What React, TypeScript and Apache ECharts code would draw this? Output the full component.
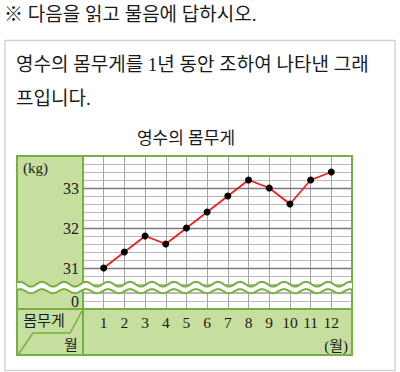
import React, { useEffect, useRef } from "react";
import * as echarts from "echarts";

// ---- data ----
const months = [1, 2, 3, 4, 5, 6, 7, 8, 9, 10, 11, 12];
const monthLabels = ["1", "2", "3", "4", "5", "6", "7", "8", "9", "10", "11", "12"];
const weights = [31, 31.4, 31.8, 31.6, 32.0, 32.4, 32.8, 33.2, 33.0, 32.6, 33.2, 33.4];
const upperTicks = [31, 32, 33];
const lowerTicks = [0];
const headerText = "※ 다음을 읽고 물음에 답하시오.";
const bodyLines = ["영수의 몸무게를 1년 동안 조하여 나타낸 그래", "프입니다."];
const chartTitle = "영수의 몸무게";
const unitY = "(kg)";
const unitX = "(월)";
const cornerTop = "몸무게";
const cornerBottom = "월";

const KFONT = "'Liberation Serif', 'Noto Sans CJK KR', serif";
const NFONT = "'Liberation Serif', 'Times New Roman', serif";
const GREEN = "#76b043";
const FILL = "#c6df9f";

function wave(cy: number, amp: number, x0: number, x1: number, period: number, ref: number) {
  const pts: number[][] = [];
  for (let x = x0; x <= x1; x += 1) {
    pts.push([x, cy - amp * Math.cos((2 * Math.PI * (x - ref)) / period)]);
  }
  return pts;
}

function isTick(v: number, list: number[]) {
  const r = Math.round(v);
  return Math.abs(v - r) < 1e-6 && list.indexOf(r) >= 0 ? String(r) : "";
}

export default function App() {
  const ref = useRef<HTMLDivElement>(null);
  useEffect(() => {
    if (!ref.current) return;
    const chart = echarts.init(ref.current, null, { renderer: "svg" });
    const L = 17, R = 352, T = 156, B = 355, C = 83, MR = 309;
    const up = wave(284.2, 2.4, L, R, 22, 350);
    const lo = wave(291.2, 2.0, L, R, 22, 350);
    const band = up.concat(lo.slice().reverse());

    const txt = (text: string, x: number, y: number, size: number, align: string, font = KFONT) => ({
      type: "text",
      x,
      y,
      z: 30,
      style: { text, fontSize: size, fontFamily: font, fill: "#1a1a1a", align, verticalAlign: "middle" },
    });

    const labelStyle = { fontFamily: NFONT, color: "#1a1a1a" };
    const hLine = { color: "#b8b8b8", width: 1 };
    const vLine = { color: "#a4a4a4", width: 1 };

    const option: any = {
      animation: false,
      grid: [
        { left: C, right: 400 - R, top: T, height: 136 },
        { left: C, right: 400 - R, top: 285, height: 24 },
      ],
      xAxis: [
        {
          type: "value", gridIndex: 0, min: 0, max: 13, interval: 1,
          axisLine: { show: false }, axisTick: { show: false }, axisLabel: { show: false },
          splitLine: { show: true, lineStyle: vLine },
        },
        {
          type: "value", gridIndex: 1, min: 0, max: 13, interval: 1,
          axisLine: { show: false }, axisTick: { show: false },
          axisLabel: {
            show: true, margin: 5, fontSize: 15.5, ...labelStyle,
            formatter: (v: number) => (v >= 1 && v <= 12 ? monthLabels[months.indexOf(v)] : ""),
          },
          splitLine: { show: true, lineStyle: vLine },
        },
      ],
      yAxis: [
        {
          type: "value", gridIndex: 0, min: 30.4, max: 33.8, interval: 0.2,
          axisLine: { show: false }, axisTick: { show: false },
          axisLabel: {
            show: true, margin: 4, fontSize: 16, ...labelStyle,
            formatter: (v: number) => isTick(v, upperTicks),
          },
          splitLine: { show: true, lineStyle: hLine },
        },
        {
          type: "value", gridIndex: 1, min: -0.2, max: 0.4, interval: 0.2,
          axisLine: { show: false }, axisTick: { show: false },
          axisLabel: {
            show: true, margin: 4, fontSize: 16, ...labelStyle,
            formatter: (v: number) => isTick(v, lowerTicks),
          },
          splitLine: { show: true, lineStyle: hLine },
        },
      ],
      series: [
        {
          type: "line",
          xAxisIndex: 0,
          yAxisIndex: 0,
          data: months.map((m, i) => [m, weights[i]]),
          symbol: "circle",
          symbolSize: 7,
          z: 5,
          lineStyle: { color: "#ff1414", width: 1.6 },
          itemStyle: { color: "#000" },
          markLine: {
            silent: true,
            symbol: ["none", "none"],
            label: { show: false },
            lineStyle: { color: "#7a7a7a", width: 1.3, type: "solid" },
            data: upperTicks.map((v) => ({ yAxis: v })),
          },
        },
      ],
      graphic: [
        { type: "rect", z: -3, shape: { x: 5, y: 40.5, width: 390, height: 330 }, style: { fill: "none", stroke: "#d2d2d2", lineWidth: 1.5 } },
        { type: "rect", z: -2, shape: { x: L, y: T, width: C - L, height: B - T }, style: { fill: FILL } },
        { type: "rect", z: -2, shape: { x: C, y: MR, width: R - C, height: B - MR }, style: { fill: FILL } },
        { type: "rect", z: 10, shape: { x: L, y: T, width: R - L, height: B - T }, style: { fill: "none", stroke: GREEN, lineWidth: 2 } },
        { type: "line", z: 10, shape: { x1: C, y1: T, x2: C, y2: B }, style: { stroke: GREEN, lineWidth: 2 } },
        { type: "line", z: 10, shape: { x1: L, y1: MR, x2: R, y2: MR }, style: { stroke: GREEN, lineWidth: 2 } },
        { type: "polyline", z: 10, shape: { points: [[82, 311], [70, 333], [33, 333], [18, 355]] }, style: { stroke: GREEN, lineWidth: 1.5, fill: "none" } },
        { type: "polygon", z: 12, shape: { points: band }, style: { fill: "#ffffff", stroke: "none" } },
        { type: "polyline", z: 13, shape: { points: up }, style: { stroke: GREEN, lineWidth: 2, fill: "none" } },
        { type: "polyline", z: 13, shape: { points: lo }, style: { stroke: GREEN, lineWidth: 2, fill: "none" } },
        txt(headerText, 4, 14, 19, "left"),
        txt(bodyLines[0], 16, 64, 19, "left"),
        txt(bodyLines[1], 16, 98, 19, "left"),
        txt(chartTitle, 186, 138, 17, "center"),
        txt(unitY, 23, 168, 15, "left", NFONT),
        txt(unitX, 348, 346, 15, "right"),
        txt(cornerTop, 44, 321, 15, "center"),
        txt(cornerBottom, 71, 345, 15, "center"),
      ],
    };
    chart.setOption(option);
    return () => chart.dispose();
  }, []);
  return (
    <div
      ref={ref}
      style={{ position: "fixed", left: 0, top: 0, width: 400, height: 372, background: "#fff" }}
    />
  );
}
